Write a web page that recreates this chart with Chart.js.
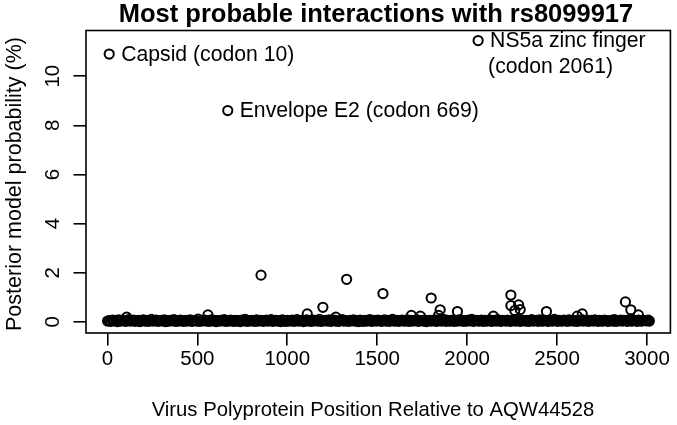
<!DOCTYPE html>
<html>
<head>
<meta charset="utf-8">
<script src="https://cdn.jsdelivr.net/npm/chart.js@4/dist/chart.umd.min.js"></script>
<style>
html,body{margin:0;padding:0;background:#fff;}
#wrap{width:677px;height:425px;position:relative;}
</style>
</head>
<body>
<div id="wrap"><canvas id="c" width="677" height="425"></canvas></div>
<script>
// ---- data ----
const titleText = "Most probable interactions with rs8099917";
const xTitle = "Virus Polyprotein Position Relative to AQW44528";
const yTitle = "Posterior model probability (%)";
const xTicks = [0, 500, 1000, 1500, 2000, 2500, 3000];
const yTicks = [0, 2, 4, 6, 8, 10];

// dense near-zero background of polyprotein positions
const baseX = [1,10,19,28,37,46,55,64,73,82,
91,100,109,118,127,136,145,154,163,172,
181,190,199,208,217,226,235,244,253,262,
271,280,289,298,307,316,325,334,343,352,
361,370,379,388,397,406,415,424,433,442,
451,460,469,478,487,496,505,514,523,532,
541,550,559,568,577,586,595,604,613,622,
631,640,649,658,667,676,685,694,703,712,
721,730,739,748,757,766,775,784,793,802,
811,820,829,838,847,856,865,874,883,892,
901,910,919,928,937,946,955,964,973,982,
991,1000,1009,1018,1027,1036,1045,1054,1063,1072,
1081,1090,1099,1108,1117,1126,1135,1144,1153,1162,
1171,1180,1189,1198,1207,1216,1225,1234,1243,1252,
1261,1270,1279,1288,1297,1306,1315,1324,1333,1342,
1351,1360,1369,1378,1387,1396,1405,1414,1423,1432,
1441,1450,1459,1468,1477,1486,1495,1504,1513,1522,
1531,1540,1549,1558,1567,1576,1585,1594,1603,1612,
1621,1630,1639,1648,1657,1666,1675,1684,1693,1702,
1711,1720,1729,1738,1747,1756,1765,1774,1783,1792,
1801,1810,1819,1828,1837,1846,1855,1864,1873,1882,
1891,1900,1909,1918,1927,1936,1945,1954,1963,1972,
1981,1990,1999,2008,2017,2026,2035,2044,2053,2062,
2071,2080,2089,2098,2107,2116,2125,2134,2143,2152,
2161,2170,2179,2188,2197,2206,2215,2224,2233,2242,
2251,2260,2269,2278,2287,2296,2305,2314,2323,2332,
2341,2350,2359,2368,2377,2386,2395,2404,2413,2422,
2431,2440,2449,2458,2467,2476,2485,2494,2503,2512,
2521,2530,2539,2548,2557,2566,2575,2584,2593,2602,
2611,2620,2629,2638,2647,2656,2665,2674,2683,2692,
2701,2710,2719,2728,2737,2746,2755,2764,2773,2782,
2791,2800,2809,2818,2827,2836,2845,2854,2863,2872,
2881,2890,2899,2908,2917,2926,2935,2944,2953,2962,
2971,2980,2989,2998,3007,3013];
const baseY = [0.03,0.05,0.02,0.07,0.04,0.06,0.01,0.08,0.03,0.05,
0.06,0.02,0.04,0.09,0.03,0.05,0.07,0.02,0.04,0.06,
0.01,0.05,0.08,0.03,0.06,0.02,0.04,0.10,0.03,0.05,
0.07,0.02,0.04,0.06,0.03,0.08,0.01,0.05,0.03,0.06,
0.04,0.09,0.02,0.05,0.03,0.07,0.04,0.02,0.06,0.03,
0.05,0.08,0.02,0.04,0.06,0.03,0.11,0.02,0.05,0.04,
0.07,0.03,0.05,0.02,0.08,0.04,0.06,0.01,0.05,0.03,
0.06,0.04,0.09,0.02,0.05,0.03,0.07,0.04,0.02,0.06,
0.03,0.05,0.01,0.07,0.04,0.10,0.02,0.05,0.03,0.06,
0.04,0.02,0.08,0.03,0.05,0.06,0.02,0.04,0.07,0.03,
0.05,0.09,0.02,0.04,0.06,0.03,0.05,0.01,0.08,0.04,
0.02,0.06,0.03,0.05,0.07,0.02,0.04,0.09,0.03,0.05,
0.06,0.01,0.04,0.08,0.03,0.05,0.02,0.07,0.04,0.06,
0.03,0.10,0.02,0.05,0.04,0.06,0.03,0.08,0.02,0.05,
0.07,0.03,0.04,0.02,0.06,0.09,0.03,0.05,0.04,0.02,
0.06,0.04,0.08,0.03,0.05,0.01,0.07,0.04,0.02,0.06,
0.03,0.05,0.09,0.02,0.04,0.06,0.03,0.07,0.05,0.02,
0.04,0.08,0.03,0.06,0.02,0.05,0.10,0.03,0.04,0.06,
0.02,0.05,0.07,0.03,0.04,0.08,0.02,0.06,0.03,0.05,
0.04,0.09,0.02,0.05,0.06,0.03,0.07,0.01,0.04,0.06,
0.03,0.05,0.08,0.02,0.04,0.06,0.03,0.05,0.09,0.02,
0.06,0.03,0.04,0.07,0.02,0.05,0.03,0.08,0.04,0.06,
0.02,0.05,0.03,0.07,0.04,0.10,0.02,0.05,0.06,0.03,
0.04,0.07,0.02,0.06,0.03,0.05,0.08,0.02,0.04,0.06,
0.03,0.09,0.04,0.02,0.06,0.05,0.03,0.07,0.04,0.02,
0.05,0.08,0.03,0.06,0.04,0.02,0.07,0.05,0.03,0.06,
0.02,0.04,0.09,0.03,0.05,0.06,0.02,0.08,0.04,0.03,
0.06,0.05,0.02,0.07,0.04,0.03,0.10,0.05,0.02,0.06,
0.04,0.03,0.07,0.05,0.02,0.08,0.04,0.06,0.03,0.05,
0.02,0.06,0.04,0.09,0.03,0.05,0.07,0.02,0.04,0.06,
0.03,0.08,0.05,0.02,0.06,0.04,0.03,0.07,0.05,0.02,
0.04,0.06,0.03,0.09,0.02,0.05,0.04,0.07,0.03,0.06,
0.05,0.02,0.08,0.04,0.03,0.06,0.05,0.02,0.07,0.04,
0.03,0.06,0.05,0.04,0.07,0.03];

// notable positions above the background
const peakX = [107,559,854,1111,1198,1270,1330,1532,1690,1740,1800,1841,1850,1946,2146,2243,2243,2265,2286,2295,2441,2612,2640,2880,2910,2952];
const peakY = [0.19,0.28,1.90,0.32,0.59,0.19,1.73,1.15,0.26,0.23,0.97,0.26,0.49,0.42,0.23,1.09,0.66,0.46,0.69,0.50,0.42,0.23,0.32,0.81,0.49,0.28];

// labelled points
const annX = [10, 669, 2061];
const annY = [10.9, 8.6, 11.45];
const annText = [["Capsid (codon 10)"], ["Envelope E2 (codon 669)"], ["NS5a zinc finger", "(codon 2061)"]];

const FONT = '"Liberation Sans", Arial, Helvetica, sans-serif';

const toPts = (xs, ys) => xs.map((x, i) => ({x: x, y: ys[i]}));

const textPlugin = {
  id: 'rtext',
  afterDraw(chart) {
    const ctx = chart.ctx, a = chart.chartArea;
    const xs = chart.scales.x, ys = chart.scales.y;
    ctx.save();
    ctx.strokeStyle = '#000';
    ctx.lineWidth = 1.6;
    ctx.strokeRect(a.left, a.top, a.right - a.left, a.bottom - a.top);
    ctx.fillStyle = '#000';
    // title
    ctx.font = 'bold 25.5px ' + FONT;
    ctx.textAlign = 'center';
    ctx.textBaseline = 'alphabetic';
    ctx.fillText(titleText, 376, 22);
    // x tick labels
    ctx.font = '20.5px ' + FONT;
    xTicks.forEach(v => ctx.fillText(String(v), xs.getPixelForValue(v), 365));
    // x title
    ctx.font = '20.3px ' + FONT;
    ctx.fillText(xTitle, 373, 416);
    // y tick labels (rotated)
    ctx.font = '20.5px ' + FONT;
    yTicks.forEach(v => {
      ctx.save();
      ctx.translate(58.5, ys.getPixelForValue(v));
      ctx.rotate(-Math.PI / 2);
      ctx.fillText(String(v), 0, 0);
      ctx.restore();
    });
    ctx.font = '21.5px ' + FONT;
    ctx.save();
    ctx.translate(21, 184);
    ctx.rotate(-Math.PI / 2);
    ctx.fillText(yTitle, 0, 0);
    ctx.restore();
    // annotations
    ctx.font = '21.2px ' + FONT;
    ctx.textAlign = 'left';
    ctx.textBaseline = 'middle';
    annX.forEach((x, i) => {
      const px = xs.getPixelForValue(x), py = ys.getPixelForValue(annY[i]);
      annText[i].forEach((line, j) => {
        ctx.fillText(line, px + 12 - (j > 0 ? 2 : 0), py + 1 + j * 26);
      });
    });
    ctx.restore();
  }
};

const pointStyle = {
  pointRadius: 4.6,
  pointHoverRadius: 4.6,
  pointBorderWidth: 2,
  pointBackgroundColor: 'rgba(0,0,0,0)',
  pointBorderColor: '#000',
  showLine: false
};

new Chart(document.getElementById('c'), {
  type: 'scatter',
  data: {
    datasets: [
      Object.assign({data: toPts(baseX, baseY)}, pointStyle),
      Object.assign({data: toPts(peakX, peakY)}, pointStyle),
      Object.assign({data: toPts(annX, annY)}, pointStyle)
    ]
  },
  options: {
    responsive: false,
    animation: false,
    events: [],
    layout: {padding: {top: 30.5, right: 4, left: 0, bottom: 0}},
    plugins: {legend: {display: false}, title: {display: false}, tooltip: {enabled: false}},
    scales: {
      x: {
        type: 'linear', min: -119, max: 3130,
        afterBuildTicks: s => { s.ticks = xTicks.map(v => ({value: v})); },
        afterFit: s => { s.height = 92; },
        ticks: {display: false},
        border: {display: false},
        grid: {drawOnChartArea: false, drawTicks: true, tickLength: 12.5, color: '#000', lineWidth: 1.6}
      },
      y: {
        type: 'linear', min: -0.456, max: 11.86,
        afterBuildTicks: s => { s.ticks = yTicks.map(v => ({value: v})); },
        afterFit: s => { s.width = 86; },
        ticks: {display: false},
        border: {display: false},
        grid: {drawOnChartArea: false, drawTicks: true, tickLength: 12.5, color: '#000', lineWidth: 1.6}
      }
    }
  },
  plugins: [textPlugin]
});
</script>
</body>
</html>
